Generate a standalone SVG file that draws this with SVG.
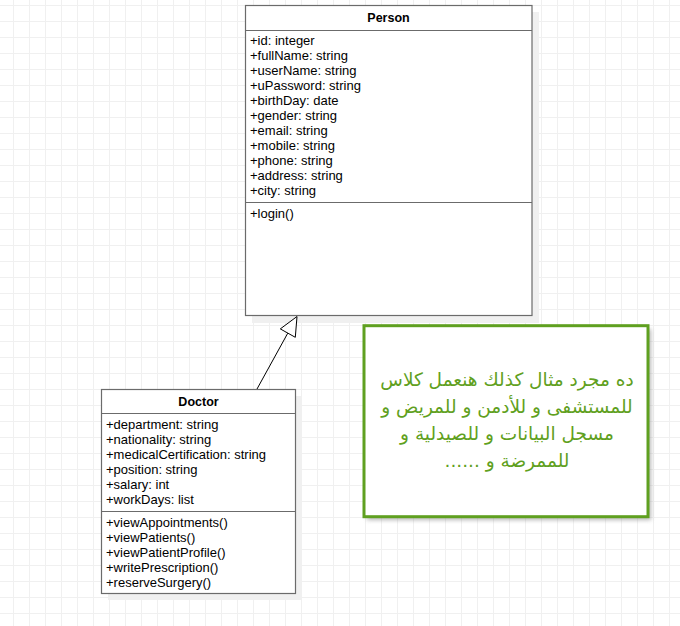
<svg xmlns="http://www.w3.org/2000/svg" width="680" height="626" viewBox="0 0 680 626">
<defs>
<pattern id="grid" x="13" y="5" width="16" height="16" patternUnits="userSpaceOnUse">
<path d="M0.5 0V16M0 0.5H16" fill="none" stroke="#f0f0f0" stroke-width="1"/>
</pattern>
<filter id="blur" x="-10%" y="-10%" width="120%" height="120%">
<feGaussianBlur stdDeviation="2"/>
</filter>
<style>
.box{fill:#ffffff;stroke:#6b6b6b;stroke-width:1.2}
.shadow{fill:#f0f0f0}
.sep{stroke:#6b6b6b;stroke-width:1.2}
.t{font-family:"Liberation Sans",Arial,sans-serif;font-size:13px;fill:#000000}
.title{font-family:"Liberation Sans",Arial,sans-serif;font-size:12.5px;font-weight:bold;fill:#000000;text-anchor:middle}
.note{font-family:"DejaVu Sans",sans-serif;font-size:18.5px;fill:#5fa020;text-anchor:middle}
</style>
</defs>
<rect width="680" height="626" fill="#ffffff"/>
<rect width="680" height="626" fill="url(#grid)"/>

<g id="Person">
<rect class="shadow" x="252" y="12" width="287" height="311"/>
<rect class="box" x="245.5" y="5.5" width="286.5" height="310"/>
<line class="sep" x1="245.5" y1="30.5" x2="532" y2="30.5"/>
<line class="sep" x1="245.5" y1="202.5" x2="532" y2="202.5"/>
<text class="title" x="388.5" y="21.5">Person</text>
<text class="t" x="250" y="44.5">+id: integer</text>
<text class="t" x="250" y="59.5">+fullName: string</text>
<text class="t" x="250" y="74.5">+userName: string</text>
<text class="t" x="250" y="89.5">+uPassword: string</text>
<text class="t" x="250" y="104.5">+birthDay: date</text>
<text class="t" x="250" y="119.5">+gender: string</text>
<text class="t" x="250" y="134.5">+email: string</text>
<text class="t" x="250" y="149.5">+mobile: string</text>
<text class="t" x="250" y="164.5">+phone: string</text>
<text class="t" x="250" y="179.5">+address: string</text>
<text class="t" x="250" y="194.5">+city: string</text>
<text class="t" x="250" y="217.5">+login()</text>
</g>

<g id="Doctor">
<rect class="shadow" x="108" y="396" width="194" height="204"/>
<rect class="box" x="101.5" y="389.5" width="194" height="204"/>
<line class="sep" x1="101.5" y1="413.5" x2="295.5" y2="413.5"/>
<line class="sep" x1="101.5" y1="511.5" x2="295.5" y2="511.5"/>
<text class="title" x="198.5" y="406">Doctor</text>
<text class="t" x="106" y="428.5">+department: string</text>
<text class="t" x="106" y="443.5">+nationality: string</text>
<text class="t" x="106" y="458.5">+medicalCertification: string</text>
<text class="t" x="106" y="473.5">+position: string</text>
<text class="t" x="106" y="488.5">+salary: int</text>
<text class="t" x="106" y="503.5">+workDays: list</text>
<text class="t" x="106" y="526.5">+viewAppointments()</text>
<text class="t" x="106" y="541.5">+viewPatients()</text>
<text class="t" x="106" y="556.5">+viewPatientProfile()</text>
<text class="t" x="106" y="571.5">+writePrescription()</text>
<text class="t" x="106" y="586.5">+reserveSurgery()</text>
</g>

<g id="connectors">
<line x1="257" y1="389" x2="287.8" y2="333.1" stroke="#000000" stroke-width="1"/>
<polygon points="297,316.5 280.3,328.9 295.3,337.3" fill="#ffffff" stroke="#000000" stroke-width="1"/>
</g>

<g id="Note">
<rect x="367" y="329" width="284" height="191" fill="#888888" opacity="0.6" filter="url(#blur)"/>
<rect x="364" y="325.7" width="284" height="191" fill="#ffffff" stroke="#5fa020" stroke-width="3"/>
<text class="note" direction="rtl" x="507" y="386">ده مجرد مثال كذلك هنعمل كلاس</text>
<text class="note" direction="rtl" x="507" y="413">للمستشفى و للأدمن و للمريض و</text>
<text class="note" direction="rtl" x="507" y="440">مسجل البيانات و للصيدلية و</text>
<text class="note" direction="rtl" x="507" y="467">للممرضة و ......</text>
</g>
</svg>
